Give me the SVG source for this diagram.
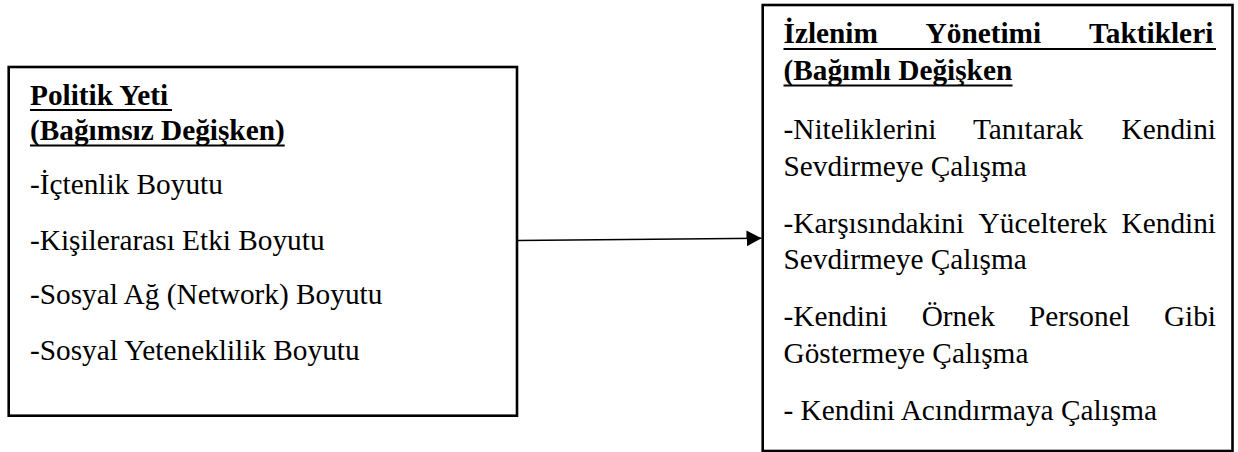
<svg xmlns="http://www.w3.org/2000/svg" width="1238" height="452" viewBox="0 0 1238 452">
  <style>
    .box { fill: #ffffff; stroke: #000000; stroke-width: 2.6; }
    .t { font-family: "Liberation Serif", "Times New Roman", serif; font-size: 29.3px; fill: #000000; }
    .b { font-weight: bold; }
    .ul { stroke: #000000; stroke-width: 2; }
    .conn { stroke: #000000; stroke-width: 1.4; fill: none; }
  </style>
  <defs>
    <marker id="arrow" markerUnits="userSpaceOnUse" markerWidth="15" markerHeight="16" viewBox="0 0 15 16" refX="15" refY="8" orient="auto">
      <path d="M0,0 L15,8 L0,16 Z" fill="#000000"/>
    </marker>
  </defs>
  <rect width="1238" height="452" fill="#ffffff"/>

  <g id="connectors">
    <line class="conn" x1="517" y1="240.5" x2="761.5" y2="238.3" marker-end="url(#arrow)"/>
  </g>

  <g id="node-politik-yeti">
    <rect class="box" x="8.7" y="67" width="508.3" height="348.7"/>
    <text class="t b" x="30" y="104.5">Politik Yeti</text>
    <line class="ul" x1="30" y1="110" x2="172" y2="110"/>
    <text class="t b" x="30" y="140">(Bağımsız Değişken)</text>
    <line class="ul" x1="30" y1="145.5" x2="284.7" y2="145.5"/>
    <text class="t" x="30" y="194">-İçtenlik Boyutu</text>
    <text class="t" x="30" y="249.5">-Kişilerarası Etki Boyutu</text>
    <text class="t" x="30" y="304">-Sosyal Ağ (Network) Boyutu</text>
    <text class="t" x="30" y="359.5">-Sosyal Yeteneklilik Boyutu</text>
  </g>

  <g id="node-izlenim-yonetimi">
    <rect class="box" x="762.7" y="5" width="469.8" height="446"/>
    <text class="t b" y="43.3"><tspan x="783.5">İzlenim</tspan><tspan x="925.6">Yönetimi</tspan><tspan x="1089">Taktikleri</tspan></text>
    <line class="ul" x1="783.5" y1="49" x2="1216" y2="49"/>
    <text class="t b" x="783.5" y="80">(Bağımlı Değişken</text>
    <line class="ul" x1="783.5" y1="85.5" x2="1012.5" y2="85.5"/>
    <text class="t" y="139.2"><tspan x="783.5">-Niteliklerini</tspan><tspan x="972.9">Tanıtarak</tspan><tspan x="1121.6">Kendini</tspan></text>
    <text class="t" x="783.5" y="175.7">Sevdirmeye Çalışma</text>
    <text class="t" y="232.7"><tspan x="783.5">-Karşısındakini</tspan><tspan x="978.6">Yücelterek</tspan><tspan x="1121.6">Kendini</tspan></text>
    <text class="t" x="783.5" y="269.2">Sevdirmeye Çalışma</text>
    <text class="t" y="326"><tspan x="783.5">-Kendini</tspan><tspan x="921.7">Örnek</tspan><tspan x="1028.9">Personel</tspan><tspan x="1163.9">Gibi</tspan></text>
    <text class="t" x="783.5" y="362.5">Göstermeye Çalışma</text>
    <text class="t" x="783.5" y="419.5">- Kendini Acındırmaya Çalışma</text>
  </g>
</svg>
